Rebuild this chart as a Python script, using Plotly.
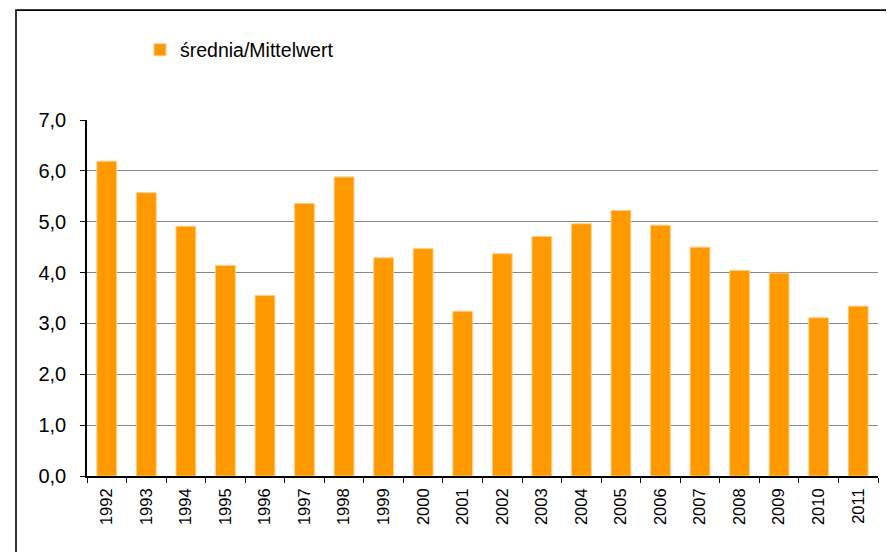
import plotly.graph_objects as go

years = ["1992", "1993", "1994", "1995", "1996", "1997", "1998", "1999", "2000", "2001",
         "2002", "2003", "2004", "2005", "2006", "2007", "2008", "2009", "2010", "2011"]
mean_values = [6.19, 5.57, 4.91, 4.14, 3.55, 5.36, 5.88, 4.29, 4.47, 3.24,
               4.37, 4.71, 4.96, 5.22, 4.93, 4.50, 4.04, 3.99, 3.11, 3.34]
series_name = "średnia/Mittelwert"
y_ticks = [0, 1, 2, 3, 4, 5, 6, 7]

fig = go.Figure()
fig.add_trace(go.Bar(
    x=years, y=mean_values, name=series_name,
    marker=dict(color="#FF9900", line=dict(color="#FFCC80", width=1)),
    showlegend=True,
))

# page has an 8px body margin, so the figure starts at page (8, 8)
W, H = 886, 544
L, R, T, B = 79, 16, 112, 75.5
ph = H - T - B
pw = W - L - R

fig.update_layout(
    width=W, height=H,
    margin=dict(l=L, r=R, t=T, b=B, pad=0),
    paper_bgcolor="white", plot_bgcolor="white",
    separators=", ",
    bargap=0.5,
    font=dict(family="Liberation Sans, Arial, sans-serif", color="black"),
    showlegend=True,
    legend=dict(
        x=(132 - L) / pw, y=(H - B - 42) / ph, xanchor="left", yanchor="middle",
        font=dict(size=19.5), bgcolor="rgba(0,0,0,0)",
        itemwidth=30,
    ),
    xaxis=dict(
        type="category", showline=True, linecolor="black", linewidth=1.5,
        ticks="outside", tickson="boundaries", ticklen=5, tickcolor="black",
        tickangle=-90, tickfont=dict(size=16.5), showgrid=False,
        ticklabelstandoff=4,
    ),
    yaxis=dict(
        range=[0, 7], tickvals=y_ticks, tickformat=".1f",
        showline=True, linecolor="black", linewidth=1.5,
        ticks="outside", ticklen=5, tickcolor="black",
        tickfont=dict(size=20), showgrid=True, gridcolor="#868686", gridwidth=1.3,
        zeroline=False, ticklabelstandoff=10,
    ),
    shapes=[dict(
        type="rect", xref="paper", yref="paper",
        x0=(8 - L) / pw, x1=1.2, y0=-0.5, y1=(H - B - 2) / ph,
        line=dict(color="black", width=1.6), fillcolor="rgba(0,0,0,0)", layer="above",
    )],
)

fig.write_html("out.html")
